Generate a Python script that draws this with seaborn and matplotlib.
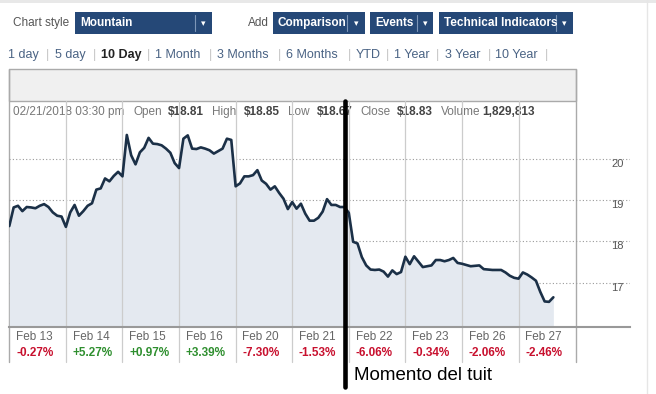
import matplotlib

matplotlib.use("Agg")
import matplotlib.pyplot as plt
import numpy as np
import pandas as pd
import seaborn as sns
from matplotlib.patches import Rectangle

# --- data (half-hour closes, 13 per session) ---
days = ["Feb 13", "Feb 14", "Feb 15", "Feb 16", "Feb 20",
        "Feb 21", "Feb 22", "Feb 23", "Feb 26", "Feb 27"]
day_changes = ["-0.27%", "+5.27%", "+0.97%", "+3.39%", "-7.30%",
               "-1.53%", "-6.06%", "-0.34%", "-2.06%", "-2.46%"]

feb13 = [18.37, 18.82, 18.86, 18.73, 18.83, 18.82, 18.80, 18.86, 18.90, 18.83, 18.70, 18.62, 18.60]
feb14 = [18.35, 18.70, 18.88, 18.62, 18.73, 18.86, 18.92, 19.25, 19.28, 19.52, 19.45, 19.58, 19.68]
feb15 = [19.57, 20.57, 20.08, 19.86, 20.15, 20.26, 20.50, 20.36, 20.35, 20.32, 20.24, 20.14, 19.89]
feb16 = [19.77, 20.48, 20.56, 20.24, 20.23, 20.27, 20.24, 20.20, 20.12, 20.18, 20.24, 20.48, 20.45]
feb20 = [19.33, 19.40, 19.57, 19.57, 19.60, 19.72, 19.47, 19.39, 19.25, 19.33, 19.17, 19.03, 18.78]
feb21 = [18.95, 18.79, 18.91, 18.67, 18.50, 18.50, 18.57, 18.72, 19.02, 18.88, 18.88, 18.83, 18.83]
feb22 = [18.69, 17.99, 17.95, 17.62, 17.42, 17.32, 17.31, 17.32, 17.27, 17.15, 17.30, 17.21, 17.26]
feb23 = [17.63, 17.45, 17.64, 17.51, 17.38, 17.40, 17.42, 17.55, 17.55, 17.52, 17.55, 17.60, 17.48]
feb26 = [17.46, 17.43, 17.40, 17.41, 17.42, 17.33, 17.32, 17.31, 17.31, 17.31, 17.25, 17.17, 17.12]
feb27 = [17.10, 17.25, 17.20, 17.13, 17.05, 16.78, 16.55, 16.54, 16.65]
prices_by_day = [feb13, feb14, feb15, feb16, feb20, feb21, feb22, feb23, feb26, feb27]

y_ticks = [17, 18, 19, 20]
tweet_time = 5.93  # in session units (Feb 21, late afternoon)
samples_per_day = 13

range_labels = ["1 day", "5 day", "10 Day", "1 Month", "3 Months",
                "6 Months", "YTD", "1 Year", "3 Year", "10 Year"]
info_items = [("02/21/2018 03:30 pm", False), ("Open", False), ("$18.81", True),
              ("High", False), ("$18.85", True), ("Low", False), ("$18.67", True),
              ("Close", False), ("$18.83", True), ("Volume", False), ("1,829,813", True)]

rows = []
for d, vals in enumerate(prices_by_day):
    for k, v in enumerate(vals):
        rows.append({"t": d + k / samples_per_day, "price": v})
df = pd.DataFrame(rows)

sns.set_theme(style="white")
plt.rcParams["font.family"] = ["Liberation Sans", "DejaVu Sans"]

W, H = 656, 394
fig = plt.figure(figsize=(W / 100, H / 100), dpi=100)


def px_box(x0, y0, x1, y1):
    return [x0 / W, 1 - y1 / H, (x1 - x0) / W, (y1 - y0) / H]


# overlay in pixel coordinates for the page furniture
ov = fig.add_axes([0, 0, 1, 1])
ov.set_xlim(0, W)
ov.set_ylim(H, 0)
ov.axis("off")
ov.set_zorder(0)

ov.add_patch(Rectangle((0, 0), W, 3, fc="#e8e8e8", lw=0))
ov.plot([647, 647], [0, H], color="#e6e6e6", lw=1)

ov.text(13, 23, "Chart style", fontsize=8.5, color="#555555", va="center")
ov.text(248, 23, "Add", fontsize=8.5, color="#555555", va="center")
boxes = [("Mountain", 75, 212, 195), ("Comparison", 272.5, 365, 347),
         ("Events", 370, 433, 417), ("Technical Indicators", 439, 573, 556)]
for label, x0, x1, sep in boxes:
    ov.add_patch(Rectangle((x0, 12), x1 - x0, 22, fc="#254877", lw=0))
    ov.plot([sep, sep], [15, 31], color="#7d96b8", lw=0.8)
    ov.text(x0 + 5, 23, label, fontsize=8.5, color="white", fontweight="bold", va="center")
    ov.text((sep + x1) / 2, 23.5, "▾", fontsize=6.5, color="white", ha="center",
            va="center", family="DejaVu Sans")

range_x = [8, 55, 101, 155, 217, 286, 356, 394, 445, 495]
sep_x = [46, 93, 147, 209, 278, 348, 386, 436, 488, 545]
for lab, x, sx in zip(range_labels, range_x, sep_x):
    bold = lab == "10 Day"
    ov.text(x, 55, lab, fontsize=9, va="center",
            color="#222222" if bold else "#4a6384",
            fontweight="bold" if bold else "normal")
    ov.text(sx, 55, "|", fontsize=9, va="center", color="#c4c4c4")

# chart header band and frame
ov.add_patch(Rectangle((9.3, 69.3), 566.7, 31.7, fc="#f0f0f0", ec="#aaaaaa", lw=1))
ov.plot([9.3, 9.3], [69.3, 362], color="#aaaaaa", lw=1)
ov.plot([576, 576], [69.3, 362], color="#aaaaaa", lw=1)

info_x = [13, 133, 168, 212, 244, 288, 317, 360, 397, 441, 482]
for (txt, bold), x in zip(info_items, info_x):
    ov.text(x, 112, txt, fontsize=8.5, va="center",
            color="#444444" if bold else "#777777",
            fontweight="bold" if bold else "normal")

# price chart
ax = fig.add_axes(px_box(9.3, 101, 630, 326.7))
ax.set_zorder(1)
ax.patch.set_visible(False)

y_floor = 15.94
ax.fill_between(df["t"], df["price"], y_floor, color="#e4e9f0", lw=0, zorder=1)
sns.lineplot(data=df, x="t", y="price", ax=ax, color="#1b3047", lw=1.9, zorder=3)

ax.set_xlim(0, 10.97)
ax.set_ylim(y_floor, 21.39)
ax.set_xticks([])
ax.set_yticks(y_ticks)
ax.set_yticklabels([str(v) for v in y_ticks])
ax.yaxis.tick_right()
ax.tick_params(axis="y", length=0, pad=-13.7, labelsize=8, labelcolor="#555555")
for lbl in ax.get_yticklabels():
    lbl.set_verticalalignment("top")
ax.grid(axis="y", linestyle=(0, (1, 2)), color="#9a9a9a", lw=0.8)
ax.set_xlabel("")
ax.set_ylabel("")
for side in ["top", "left", "right"]:
    ax.spines[side].set_visible(False)
ax.spines["bottom"].set_color("#999999")
ax.spines["bottom"].set_linewidth(1.5)

xform = ax.get_xaxis_transform()
for d in range(1, len(days)):
    ax.axvline(d, ymin=-0.156, ymax=1, color="#cccccc", lw=0.9, clip_on=False, zorder=2)

for d, (lab, chg) in enumerate(zip(days, day_changes)):
    ax.text(d + 0.12, -0.047, lab, transform=xform, fontsize=8.5, color="#666666",
            va="center", clip_on=False)
    ax.text(d + 0.12, -0.117, chg, transform=xform, fontsize=8.5, fontweight="bold",
            color="#2f8f2f" if chg.startswith("+") else "#c8102e",
            va="center", clip_on=False)

# moment of the tweet
ax.axvline(tweet_time, ymin=-0.265, ymax=1, color="black", lw=3.3, clip_on=False, zorder=10)
ax.text(tweet_time + 0.17, -0.218, "Momento del tuit", transform=xform, fontsize=13.5,
        color="black", va="center", clip_on=False)

fig.savefig("out.png", dpi=100)
